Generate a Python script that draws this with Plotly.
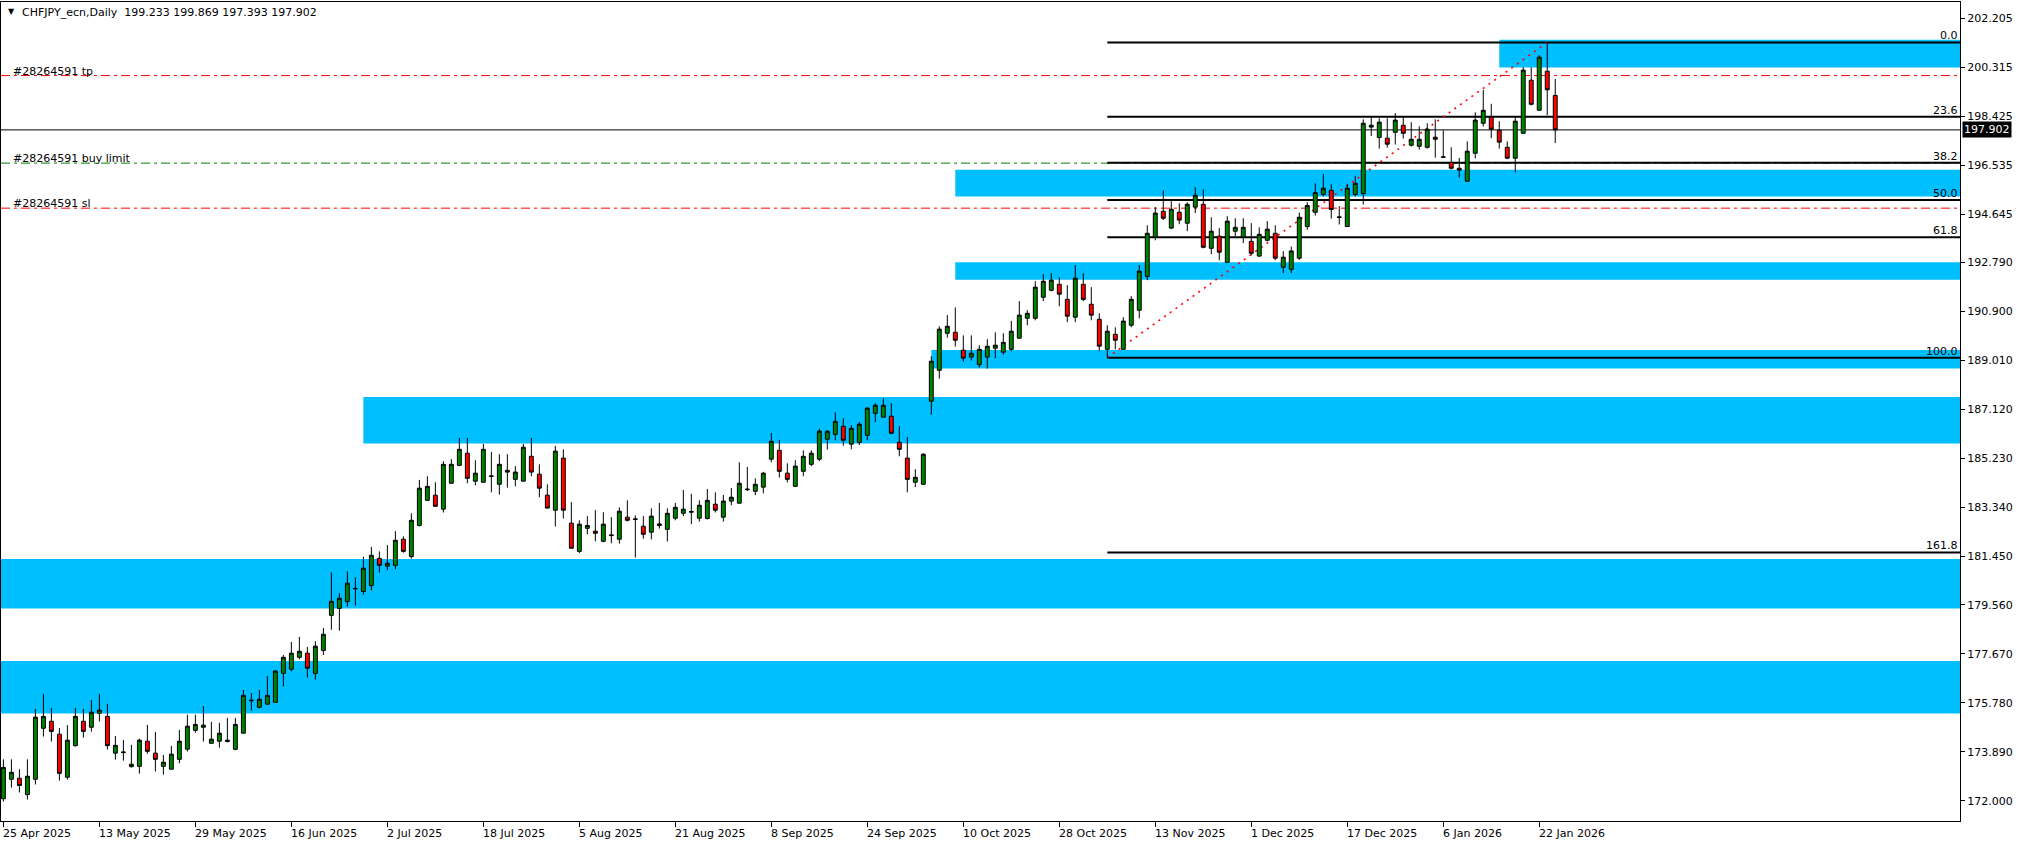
import pandas as pd
import plotly.graph_objects as go

# ---------------- data ----------------
symbol_title = "CHFJPY_ecn,Daily\u00a0\u00a0199.233 199.869 197.393 197.902"
holidays = ["2025-12-25", "2026-01-01"]
dates = [d for d in pd.bdate_range("2025-04-25", "2026-01-26")
         if d.strftime("%Y-%m-%d") not in holidays]

opens = [172.08, 172.83, 172.87, 172.24, 172.83, 174.80, 175.07, 174.57, 172.91, 174.13,
         175.07, 174.84, 175.38, 175.26, 173.84, 173.86, 173.32, 173.33, 174.30, 173.84,
         173.33, 173.22, 173.60, 173.99, 174.72, 174.84, 174.22, 174.30, 174.29, 173.99,
         174.61, 175.86, 175.61, 175.73, 175.80, 176.92, 177.08, 177.54, 177.70, 176.92,
         177.80, 179.16, 179.43, 179.69, 180.18, 180.08, 180.31, 181.36, 181.06, 181.09,
         182.10, 181.43, 182.63, 183.60, 183.80, 183.26, 184.26, 184.95, 185.42, 184.34,
         184.30, 184.52, 184.22, 184.76, 184.41, 184.34, 185.30, 184.61, 183.80, 183.22,
         185.23, 182.72, 181.63, 182.52, 182.41, 182.02, 182.24, 182.10, 182.95, 182.86,
         182.60, 182.37, 182.63, 182.48, 182.91, 183.10, 183.14, 182.91, 182.90, 183.45,
         182.95, 183.57, 183.49, 184.01, 183.95, 184.11, 185.19, 185.53, 184.65, 184.14,
         184.72, 184.99, 185.19, 185.96, 186.15, 186.46, 185.77, 185.84, 186.11, 186.96,
         186.81, 186.85, 185.84, 185.23, 184.30, 184.22, 187.43, 188.62, 190.05, 190.09,
         189.40, 189.13, 188.84, 189.13, 189.47, 189.32, 189.43, 189.86, 190.63, 190.63,
         191.44, 191.71, 191.94, 191.36, 190.67, 191.94, 191.17, 190.59, 189.43, 190.01,
         189.43, 190.36, 190.94, 192.25, 193.76, 194.76, 194.11, 194.72, 194.30, 194.92,
         195.03, 193.33, 193.80, 192.79, 193.99, 193.76, 193.60, 193.03, 193.64, 193.91,
         192.60, 192.52, 192.95, 194.17, 194.72, 195.41, 195.57, 194.52, 194.17, 195.41,
         195.44, 198.01, 197.61, 197.58, 197.81, 198.08, 197.31, 197.27, 197.23, 197.62,
         196.86, 196.64, 196.42, 195.92, 197.00, 198.16, 198.39, 197.89, 197.23, 196.81,
         197.77, 199.82, 198.66, 200.17, 199.233]
highs = [173.60, 173.60, 173.22, 173.60, 175.55, 176.13, 175.59, 174.81, 174.92, 175.59,
         175.55, 175.89, 176.13, 175.74, 174.50, 174.35, 174.16, 174.40, 174.93, 174.66,
         173.77, 174.12, 174.74, 175.32, 175.32, 175.66, 175.05, 175.01, 175.20, 175.20,
         176.28, 176.16, 176.28, 176.82, 177.05, 177.63, 178.13, 178.33, 177.94, 178.16,
         178.67, 180.82, 180.01, 180.86, 180.63, 181.42, 181.80, 181.63, 181.87, 182.41,
         182.21, 183.10, 184.39, 184.53, 184.30, 185.11, 185.19, 186.01, 186.01, 185.15,
         185.78, 185.47, 185.38, 185.38, 184.92, 185.78, 186.01, 184.99, 184.22, 185.70,
         185.57, 183.53, 182.83, 182.99, 183.22, 183.14, 182.95, 183.33, 183.60, 183.02,
         182.99, 183.29, 183.50, 183.29, 183.50, 184.00, 183.85, 183.60, 184.04, 183.91,
         183.81, 184.08, 185.07, 184.89, 184.45, 184.70, 186.20, 185.93, 185.03, 185.15,
         185.53, 185.53, 186.37, 186.31, 187.00, 186.77, 186.50, 186.62, 187.19, 187.35,
         187.54, 187.35, 186.46, 186.04, 184.80, 185.42, 189.16, 190.32, 190.75, 191.05,
         189.97, 189.97, 189.59, 189.82, 190.09, 190.05, 190.53, 191.29, 190.94, 192.06,
         192.33, 192.37, 192.21, 191.91, 192.68, 192.37, 191.83, 190.82, 190.36, 190.28,
         190.67, 191.48, 192.68, 194.22, 194.92, 195.57, 195.15, 195.07, 195.11, 195.69,
         195.61, 194.53, 194.11, 194.57, 194.49, 194.49, 194.30, 194.14, 194.38, 194.22,
         193.22, 193.40, 194.71, 195.11, 195.84, 196.20, 195.80, 194.96, 195.82, 196.13,
         198.31, 198.39, 198.35, 198.35, 198.55, 198.39, 198.20, 198.04, 198.16, 198.31,
         197.89, 197.23, 196.82, 197.46, 198.58, 199.45, 198.91, 198.24, 197.46, 198.39,
         200.32, 200.32, 200.79, 201.28, 199.869]
lows = [171.97, 172.51, 172.32, 172.05, 172.63, 174.48, 174.29, 172.78, 172.82, 174.09,
        174.44, 174.67, 175.06, 173.98, 173.59, 173.55, 173.28, 173.05, 173.82, 173.13,
        173.01, 173.22, 173.45, 173.90, 174.63, 174.29, 174.22, 174.05, 174.25, 173.95,
        174.61, 175.48, 175.57, 175.73, 175.80, 176.41, 177.00, 177.46, 176.76, 176.68,
        177.63, 178.60, 178.57, 179.50, 179.54, 179.96, 180.12, 180.81, 180.90, 180.94,
        181.58, 181.35, 182.59, 183.60, 183.37, 183.13, 184.26, 184.92, 184.26, 184.18,
        184.30, 183.91, 183.82, 184.09, 184.14, 184.34, 184.53, 183.72, 183.30, 182.59,
        182.90, 181.75, 181.56, 182.29, 182.02, 181.98, 181.94, 181.93, 182.79, 181.39,
        182.12, 182.09, 182.51, 182.01, 182.83, 182.99, 182.68, 182.78, 182.86, 183.13,
        182.78, 183.41, 183.49, 183.96, 183.80, 183.87, 185.07, 184.48, 184.29, 184.14,
        184.53, 184.92, 185.11, 185.56, 185.92, 185.71, 185.57, 185.73, 185.92, 186.62,
        186.81, 186.15, 185.30, 183.91, 184.11, 184.22, 186.91, 188.30, 189.88, 189.54,
        188.96, 189.00, 188.73, 188.69, 189.09, 189.23, 189.36, 189.86, 190.36, 190.55,
        191.29, 191.67, 191.09, 190.48, 190.48, 191.29, 190.55, 189.36, 189.11, 189.43,
        189.43, 190.28, 190.63, 192.10, 193.64, 194.42, 194.07, 194.26, 193.99, 194.69,
        193.33, 193.10, 192.87, 192.79, 193.80, 193.53, 193.06, 193.00, 193.60, 192.87,
        192.37, 192.37, 192.88, 194.05, 194.59, 195.33, 194.48, 194.25, 194.17, 195.33,
        195.02, 197.67, 197.18, 197.22, 197.34, 197.57, 197.26, 197.14, 197.18, 196.83,
        196.83, 196.38, 196.06, 195.92, 196.80, 198.03, 197.58, 197.18, 196.77, 196.26,
        197.77, 198.85, 198.66, 198.47, 197.393]
closes = [173.29, 173.10, 172.59, 172.95, 175.23, 175.26, 174.68, 173.06, 174.34, 175.26,
          174.68, 175.42, 175.50, 174.13, 174.14, 173.88, 173.41, 174.34, 173.91, 173.60,
          173.49, 173.80, 174.30, 174.88, 174.95, 174.92, 174.38, 174.61, 174.34, 174.95,
          176.07, 175.88, 175.92, 176.07, 177.01, 177.54, 177.70, 177.77, 177.12, 177.97,
          178.43, 179.70, 179.82, 180.40, 180.20, 180.98, 181.48, 181.09, 181.17, 182.06,
          181.63, 182.83, 184.07, 184.14, 183.37, 184.99, 184.99, 185.57, 184.45, 184.65,
          185.57, 184.54, 184.99, 184.69, 184.69, 185.65, 184.69, 184.07, 183.30, 185.50,
          183.22, 181.75, 182.68, 182.63, 182.33, 182.68, 182.26, 183.18, 182.83, 182.88,
          182.29, 182.99, 182.69, 183.10, 183.33, 183.26, 183.17, 183.41, 183.60, 183.22,
          183.57, 183.72, 184.26, 184.03, 184.22, 184.65, 185.88, 184.72, 184.41, 184.92,
          185.30, 185.42, 186.27, 186.27, 186.65, 185.92, 186.38, 186.54, 187.16, 187.27,
          187.27, 186.19, 185.57, 184.41, 184.49, 185.38, 188.97, 190.21, 190.32, 189.78,
          189.09, 189.28, 189.43, 189.55, 189.59, 189.70, 190.13, 190.75, 190.82, 191.83,
          192.06, 192.10, 191.56, 190.71, 192.18, 191.36, 190.75, 189.55, 190.13, 189.78,
          190.52, 191.36, 192.45, 193.91, 194.69, 194.49, 194.84, 194.42, 195.03, 195.38,
          193.37, 193.99, 193.18, 194.38, 194.14, 194.14, 193.14, 193.87, 194.07, 192.95,
          192.99, 193.23, 194.53, 194.98, 195.48, 195.65, 194.83, 194.54, 195.65, 195.84,
          198.16, 198.08, 198.20, 197.35, 198.28, 197.77, 197.54, 197.54, 197.93, 197.54,
          196.85, 196.42, 196.35, 197.08, 198.28, 198.66, 197.93, 197.43, 196.81, 198.24,
          200.21, 198.89, 200.71, 199.45, 197.902]

last_price = 197.902
ytick_vals = [202.205, 200.315, 198.425, 196.535, 194.645, 192.790, 190.900, 189.010,
              187.120, 185.230, 183.340, 181.450, 179.560, 177.670, 175.780, 173.890, 172.000]

# supply / demand zones (start bar index, None = whole chart)
zone_start = [187, 119, 119, 116, 45, None, None]
zone_top = [201.38, 196.36, 192.79, 189.40, 187.59, 181.34, 177.40]
zone_bottom = [200.31, 195.33, 192.12, 188.69, 185.79, 179.42, 175.37]

# Fibonacci retracement
fib_start_bar = 138
fib_end_bar = 193
fib_low = 189.11
fib_high = 201.28
fib_levels = [0.0, 23.6, 38.2, 50.0, 61.8, 100.0, 161.8]
fib_labels = ["0.0", "23.6", "38.2", "50.0", "61.8", "100.0", "161.8"]

# order lines
order_names = ["#28264591 tp", "#28264591 buy limit", "#28264591 sl"]
order_prices = [200.00, 196.62, 194.88]
order_colors = ["#FF0000", "#008000", "#FF0000"]

# ---------------- figure ----------------
n = len(dates)
xs = list(range(n))
X_MIN, X_MAX = -0.3, 244.6
Y_MIN, Y_MAX = 171.22, 202.84
FONT = "DejaVu Sans"

fig = go.Figure()
fig.add_trace(go.Candlestick(
    x=xs, open=opens, high=highs, low=lows, close=closes,
    increasing=dict(fillcolor="#008000", line=dict(color="black", width=1)),
    decreasing=dict(fillcolor="#FF0000", line=dict(color="black", width=1)),
    hoverinfo="skip", showlegend=False,
))

shapes = []
for s, t, b in zip(zone_start, zone_top, zone_bottom):
    shapes.append(dict(type="rect", xref="x", yref="y",
                       x0=X_MIN if s is None else s, x1=X_MAX, y0=b, y1=t,
                       fillcolor="#00BFFF", line=dict(width=0), layer="below"))
for p, c in zip(order_prices, order_colors):
    shapes.append(dict(type="line", xref="x", yref="y", x0=X_MIN, x1=X_MAX, y0=p, y1=p,
                       line=dict(color=c, width=1, dash="9px,4px,3px,4px"), layer="below"))
shapes.append(dict(type="line", xref="x", yref="y", x0=X_MIN, x1=X_MAX,
                   y0=last_price, y1=last_price, line=dict(color="black", width=1), layer="below"))
fib_prices = [fib_high - (fib_high - fib_low) * lv / 100.0 for lv in fib_levels]
for p in fib_prices:
    shapes.append(dict(type="line", xref="x", yref="y", x0=fib_start_bar, x1=X_MAX, y0=p, y1=p,
                       line=dict(color="black", width=2), layer="below"))
shapes.append(dict(type="line", xref="x", yref="y", x0=fib_start_bar, x1=fib_end_bar,
                   y0=fib_low, y1=fib_high, line=dict(color="#FF0000", width=1.6, dash="2px,5px"),
                   layer="below"))

annotations = []
# title
annotations.append(dict(xref="paper", yref="paper", x=0.0026, y=1, xanchor="left", yanchor="top",
                        yshift=-3, text="\u25bc", showarrow=False,
                        font=dict(family=FONT, size=8, color="black")))
annotations.append(dict(xref="paper", yref="paper", x=0.0095, y=1, xanchor="left", yanchor="top",
                        yshift=-2, text=symbol_title, showarrow=False,
                        font=dict(family=FONT, size=11, color="black")))
# order labels
for name, p in zip(order_names, order_prices):
    annotations.append(dict(xref="paper", yref="y", x=0.0052, y=p, xanchor="left", yanchor="bottom",
                            yshift=-4, text=name, showarrow=False,
                            font=dict(family=FONT, size=11, color="black")))
# fib labels
for lab, p in zip(fib_labels, fib_prices):
    annotations.append(dict(xref="x", yref="y", x=X_MAX, y=p, xanchor="right", yanchor="bottom",
                            xshift=0, yshift=-2, text=lab, showarrow=False,
                            font=dict(family=FONT, size=11, color="black")))
# last price box on the axis
annotations.append(dict(xref="paper", yref="y", x=1, y=last_price, xanchor="left", yanchor="middle",
                        xshift=2, text="197.902", showarrow=False, bgcolor="black", borderpad=1,
                        font=dict(family=FONT, size=11, color="white")))
# date labels
tick_idx = list(range(0, n, 12))
for i in tick_idx:
    d = dates[i]
    annotations.append(dict(xref="x", yref="paper", x=i, y=0, xanchor="left", yanchor="top",
                            xshift=-2, yshift=-4, text=f"{d.day} {d.strftime('%b %Y')}",
                            showarrow=False, font=dict(family=FONT, size=11, color="black")))

fig.update_layout(
    width=2024, height=845,
    margin=dict(l=1, r=64, t=2, b=24),
    paper_bgcolor="white", plot_bgcolor="white",
    showlegend=False, shapes=shapes, annotations=annotations,
    xaxis=dict(range=[X_MIN, X_MAX], showgrid=False, zeroline=False, rangeslider=dict(visible=False),
               showline=True, linecolor="black", linewidth=1, mirror=True,
               tickmode="array", tickvals=tick_idx, ticks="outside", ticklen=5, tickcolor="black",
               showticklabels=False),
    yaxis=dict(range=[Y_MIN, Y_MAX], side="right", showgrid=False, zeroline=False,
               showline=True, linecolor="black", linewidth=1, mirror=True,
               tickmode="array", tickvals=ytick_vals, ticktext=[f"{v:.3f}" for v in ytick_vals],
               ticks="outside", ticklen=4, tickcolor="black",
               tickfont=dict(family=FONT, size=11, color="black")),
)

fig.write_html("out.html", config={"displayModeBar": False},
               post_script="document.body.style.margin='0';document.body.style.overflow='hidden';")
